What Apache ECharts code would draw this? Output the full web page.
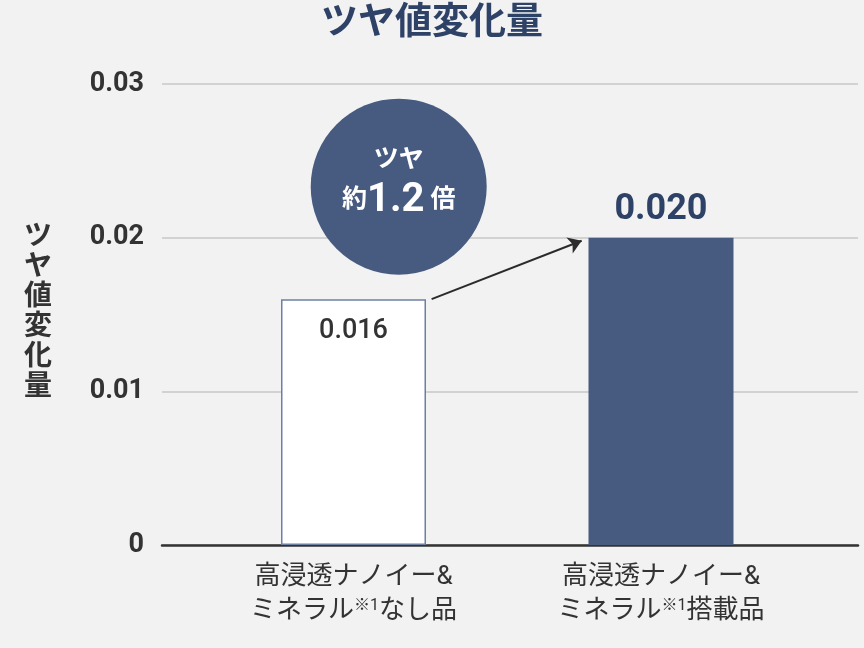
<!DOCTYPE html>
<html>
<head>
<meta charset="utf-8">
<script src="https://cdn.jsdelivr.net/npm/echarts@6/dist/echarts.min.js"></script>
<style>
html,body{margin:0;padding:0;background:#f2f2f2;}
#c{width:864px;height:648px;}
</style>
</head>
<body>
<div id="c"></div>
<script>
// ---- data ----
const chartTitle = 'ツヤ値変化量';
const yAxisTitle = 'ツヤ値変化量';
const catLine1 = ['高浸透ナノイー&', '高浸透ナノイー&'];
const catLine2Pre = ['ミネラル', 'ミネラル'];
const catNote = ['※1', '※1'];
const catLine2Post = ['なし品', '搭載品'];
const catPositions = [0, 1];
const values = [0.016, 0.020];
const yTicks = [0, 0.01, 0.02, 0.03];
const bubbleLine1 = 'ツヤ';
const bubblePre = '約';
const bubbleNum = '1.2';
const bubblePost = '倍';
const bubblePos = [0.147, 0.02332];
const arrowStart = [0.254, 0.0160];
const arrowEnd = [0.742, 0.0198];

const FONT = "Roboto, 'Noto Sans CJK JP', sans-serif";
const NAVY = '#475b80';
const DARK_NAVY = '#2e4166';
const TEXT = '#333333';

const chart = echarts.init(document.getElementById('c'), null, {renderer: 'canvas'});
const option = {
  backgroundColor: '#f2f2f2',
  animation: false,
  textStyle: {fontFamily: FONT},
  title: [
    {
      text: chartTitle, left: 'center', top: 6, padding: 0,
      textStyle: {fontSize: 37, fontWeight: 'bold', color: DARK_NAVY, fontFamily: FONT}
    },
    {
      text: yAxisTitle.split('').join('\n'), left: 24, top: 223, padding: 0,
      textStyle: {fontSize: 28, fontWeight: 'bold', color: TEXT, lineHeight: 30, fontFamily: FONT}
    }
  ],
  grid: {left: 162, right: 6, top: 84, bottom: 103, containLabel: false},
  xAxis: {
    type: 'value', min: -0.6228, max: 1.6407,
    axisLine: {show: true, onZero: false, lineStyle: {color: '#333', width: 2.5}},
    axisTick: {show: false},
    splitLine: {show: false},
    axisLabel: {
      customValues: catPositions,
      margin: 15,
      color: TEXT,
      fontSize: 26,
      lineHeight: 34,
      fontFamily: FONT,
      formatter: function (v) {
        const i = Math.round(v);
        return catLine1[i] + '\n' + catLine2Pre[i] + '{sup|' + catNote[i] + '}' + catLine2Post[i];
      },
      rich: {
        sup: {fontSize: 16, color: TEXT, fontFamily: FONT, padding: [0, 0, 10, 0]}
      }
    }
  },
  yAxis: {
    type: 'value', min: 0, max: 0.03, interval: 0.01,
    axisLine: {show: false}, axisTick: {show: false},
    splitLine: {show: true, lineStyle: {color: '#d2d2d2', width: 2}},
    axisLabel: {
      margin: 18, color: TEXT, fontSize: 27, fontWeight: 'bold', fontFamily: FONT,
      customValues: yTicks,
      formatter: function (v) { return v === 0 ? '0' : v.toFixed(2); }
    }
  },
  series: [
    {
      type: 'bar',
      barWidth: 145,
      z: 2,
      data: [
        {
          value: [catPositions[0], values[0]],
          itemStyle: {color: '#ffffff', borderColor: '#6d80a3', borderWidth: 1.5},
          label: {show: true, position: 'insideTop', distance: 19, fontSize: 27, fontWeight: 500, color: TEXT,
            formatter: function (p) { return p.value[1].toFixed(3); }}
        },
        {
          value: [catPositions[1], values[1]],
          itemStyle: {color: NAVY},
          label: {show: true, position: 'top', distance: 10, fontSize: 36, fontWeight: 'bold', color: DARK_NAVY,
            formatter: function (p) { return p.value[1].toFixed(3); }}
        }
      ],
      markLine: {
        silent: true,
        animation: false,
        symbol: ['none', 'arrow'],
        symbolSize: 13,
        label: {show: false},
        lineStyle: {color: '#2b2b2b', width: 2, type: 'solid'},
        data: [[{coord: arrowStart}, {coord: arrowEnd}]]
      }
    },
    {
      type: 'scatter',
      z: 5,
      symbol: 'circle',
      symbolSize: 176,
      itemStyle: {color: NAVY, opacity: 1},
      data: [bubblePos],
      label: {
        show: true, position: 'inside', offset: [0, -3],
        formatter: '{a|' + bubbleLine1 + '}\n{b|' + bubblePre + '}{c|' + bubbleNum + '}{d|' + bubblePost + '}',
        rich: {
          a: {fontSize: 25, fontWeight: 'bold', color: '#fff', lineHeight: 34, fontFamily: FONT},
          b: {fontSize: 25, fontWeight: 'bold', color: '#fff', lineHeight: 46, fontFamily: FONT},
          c: {fontSize: 40, fontWeight: 'bold', color: '#fff', lineHeight: 46, fontFamily: FONT},
          d: {fontSize: 25, fontWeight: 'bold', color: '#fff', lineHeight: 46, fontFamily: FONT, padding: [0, 0, 0, 6]}
        }
      }
    }
  ]
};
chart.setOption(option);
</script>
</body>
</html>
